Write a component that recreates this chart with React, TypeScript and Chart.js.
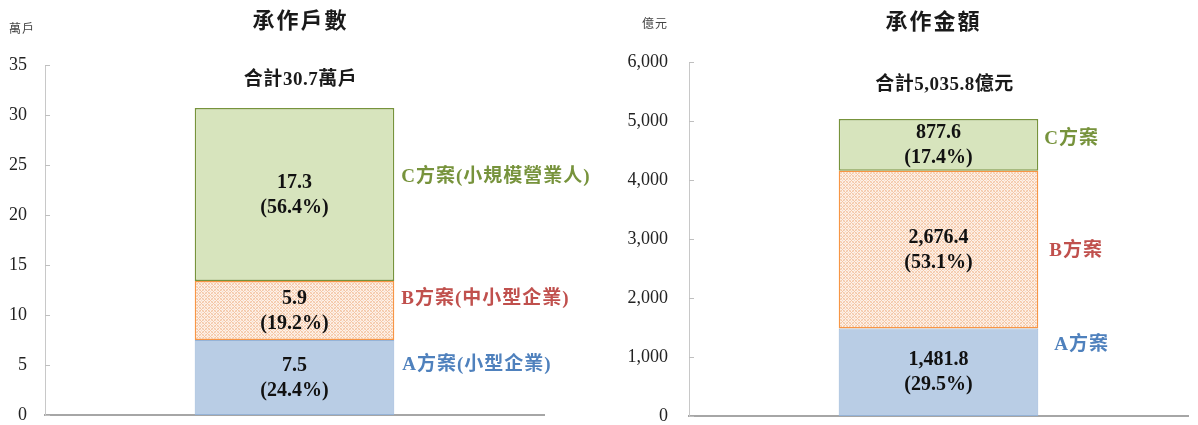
import React, { useEffect, useRef } from 'react';
import { Chart, registerables } from 'chart.js';

Chart.register(...registerables);

// ---------- data ----------
const categories = [''];
const leftTitle = '承作戶數';
const leftUnit = '萬戶';
const leftTotalPrefix = '合計';
const leftTotalSuffix = '萬戶';
const leftSeriesNames = ['A方案(小型企業)', 'B方案(中小型企業)', 'C方案(小規模營業人)'];
const householdValues = [7.5, 5.9, 17.3];
const householdShares = [24.4, 19.2, 56.4];
const householdAxisMax = 35;
const householdAxisStep = 5;

const rightTitle = '承作金額';
const rightUnit = '億元';
const rightTotalPrefix = '合計';
const rightTotalSuffix = '億元';
const rightSeriesNames = ['A方案', 'B方案', 'C方案'];
const amountValues = [1481.8, 2676.4, 877.6];
const amountShares = [29.5, 53.1, 17.4];
const amountAxisMax = 6000;
const amountAxisStep = 1000;

// ---------- styles ----------
const SERIF = '"Liberation Serif", "Times New Roman", "Noto Sans CJK TC", serif';
const seriesFill = ['#b9cde5', 'PATTERN', '#d7e4bd'];
const seriesBorder = ['#95b3d7', '#f79646', '#77933c'];
const seriesTextColor = ['#4f81bd', '#c0504d', '#77933c'];

const fmt1 = (v: number) =>
  v.toLocaleString('en-US', { minimumFractionDigits: 1, maximumFractionDigits: 1 });

function makePattern(): CanvasPattern | string {
  const c = document.createElement('canvas');
  c.width = 6;
  c.height = 6;
  const g = c.getContext('2d');
  if (!g) return '#fbe5d6';
  g.fillStyle = '#fdf1e8';
  g.fillRect(0, 0, 6, 6);
  g.fillStyle = '#f4c6a5';
  for (let i = 0; i < 6; i++) {
    for (let j = 0; j < 6; j++) {
      if ((i + j) % 6 === 0 || (i - j + 6) % 6 === 0) g.fillRect(i, j, 1, 1);
    }
  }
  g.fillStyle = '#f8dac4';
  for (let i = 0; i < 6; i++) {
    for (let j = 0; j < 6; j++) {
      if ((i + j) % 6 === 3 || (i - j + 6) % 6 === 3) g.fillRect(i, j, 1, 1);
    }
  }
  const p = g.createPattern(c, 'repeat');
  return p || '#fbe5d6';
}

const annotatePlugin = {
  id: 'annotate',
  afterDraw(chart: any, _args: any, opts: any) {
    const ctx = chart.ctx as CanvasRenderingContext2D;
    const area = chart.chartArea;
    const yScale = chart.scales.y;
    ctx.save();
    // small inner tick marks on the y axis
    ctx.strokeStyle = '#bfbfbf';
    ctx.lineWidth = 1;
    yScale.ticks.forEach((t: any) => {
      const y = Math.round(yScale.getPixelForValue(t.value)) + 0.5;
      ctx.beginPath();
      ctx.moveTo(area.left, y);
      ctx.lineTo(area.left + 5, y);
      ctx.stroke();
    });

    const cx = (area.left + area.right) / 2;
    // title
    ctx.fillStyle = '#1a1a1a';
    ctx.textAlign = 'center';
    ctx.textBaseline = 'middle';
    ctx.font = `bold 22px ${SERIF}`;
    (ctx as any).letterSpacing = '2px';
    ctx.fillText(opts.title, cx + opts.titleDx, opts.titleY);
    // unit
    ctx.font = `12px ${SERIF}`;
    (ctx as any).letterSpacing = '1px';
    ctx.fillStyle = '#444';
    ctx.fillText(opts.unit, opts.unitX, opts.unitY);
    // total
    const values: number[] = opts.values;
    const total = values.reduce((a, b) => a + b, 0);
    ctx.fillStyle = '#1a1a1a';
    ctx.font = `bold 19px ${SERIF}`;
    (ctx as any).letterSpacing = '0.5px';
    ctx.fillText(`${opts.totalPrefix}${fmt1(total)}${opts.totalSuffix}`, cx + opts.totalDx, opts.totalY);

    // segment labels and series names
    chart.data.datasets.forEach((ds: any, i: number) => {
      const bar = chart.getDatasetMeta(i).data[0] as any;
      if (!bar) return;
      const top = Math.min(bar.y, bar.base);
      const bottom = Math.max(bar.y, bar.base);
      const cy = (top + bottom) / 2;
      ctx.fillStyle = '#111';
      ctx.textAlign = 'center';
      ctx.font = `bold 20px ${SERIF}`;
      (ctx as any).letterSpacing = '0px';
      ctx.fillText(fmt1(values[i]), bar.x, cy - 12);
      ctx.fillText(`(${fmt1(opts.shares[i])}%)`, bar.x, cy + 13);

      ctx.textAlign = 'left';
      ctx.fillStyle = seriesTextColor[i];
      ctx.font = `bold 19px ${SERIF}`;
      (ctx as any).letterSpacing = '1px';
      ctx.fillText(ds.label, bar.x + bar.width / 2 + opts.nameDx[i], cy + opts.nameDy[i]);
    });
    (ctx as any).letterSpacing = '0px';
    ctx.restore();
  },
};

function buildChart(canvas: HTMLCanvasElement, cfg: any) {
  const pattern = makePattern();
  return new Chart(canvas, {
    type: 'bar',
    data: {
      labels: categories,
      datasets: cfg.names.map((name: string, i: number) => ({
        label: name,
        data: [cfg.values[i]],
        backgroundColor: seriesFill[i] === 'PATTERN' ? pattern : seriesFill[i],
        borderColor: seriesBorder[i],
        borderWidth: i === 0 ? 1 : 1.5,
        borderSkipped: false,
        barPercentage: 0.4,
        categoryPercentage: 1,
      })),
    },
    options: {
      animation: false,
      responsive: false,
      maintainAspectRatio: false,
      devicePixelRatio: 1,
      layout: { padding: { left: 0, right: cfg.padRight, top: cfg.padTop, bottom: cfg.padBottom } },
      plugins: {
        legend: { display: false },
        tooltip: { enabled: false },
        title: { display: false },
        annotate: cfg.annotate,
      } as any,
      scales: {
        x: {
          stacked: true,
          grid: { display: false, drawTicks: false },
          ticks: { display: false },
          border: { display: true, color: '#a6a6a6', width: 2 },
          afterFit: (s: any) => {
            s.height = 0;
          },
        },
        y: {
          stacked: true,
          min: 0,
          max: cfg.max,
          ticks: {
            stepSize: cfg.step,
            padding: cfg.tickPad,
            color: '#222',
            font: { family: SERIF, size: 18 },
          },
          grid: { display: false, drawTicks: false },
          border: { display: true, color: '#c8c8c8', width: 1 },
          afterFit: (s: any) => {
            s.width = cfg.axisWidth;
            s.paddingTop = 0;
            s.paddingBottom = 0;
          },
        },
      } as any,
    },
    plugins: [annotatePlugin],
  } as any);
}

export default function App() {
  const leftRef = useRef<HTMLCanvasElement>(null);
  const rightRef = useRef<HTMLCanvasElement>(null);

  useEffect(() => {
    document.body.style.margin = '0';
    const charts: Chart[] = [];
    if (leftRef.current) {
      charts.push(
        buildChart(leftRef.current, {
          names: leftSeriesNames,
          values: householdValues,
          max: householdAxisMax,
          step: householdAxisStep,
          axisWidth: 45,
          tickPad: 18,
          padRight: 55,
          padTop: 65,
          padBottom: 10,
          annotate: {
            title: leftTitle,
            titleDx: 6,
            titleY: 22,
            unit: leftUnit,
            unitX: 22,
            unitY: 30,
            totalPrefix: leftTotalPrefix,
            totalSuffix: leftTotalSuffix,
            totalDx: 6,
            totalY: 80,
            values: householdValues,
            shares: householdShares,
            nameDx: [8, 7, 7],
            nameDy: [-12, -11, -17],
          },
        })
      );
    }
    if (rightRef.current) {
      charts.push(
        buildChart(rightRef.current, {
          names: rightSeriesNames,
          values: amountValues,
          max: amountAxisMax,
          step: amountAxisStep,
          axisWidth: 90,
          tickPad: 21,
          padRight: 10,
          padTop: 62,
          padBottom: 9,
          annotate: {
            title: rightTitle,
            titleDx: -5,
            titleY: 23,
            unit: rightUnit,
            unitX: 56,
            unitY: 25,
            totalPrefix: rightTotalPrefix,
            totalSuffix: rightTotalSuffix,
            totalDx: 6,
            totalY: 85,
            values: amountValues,
            shares: amountShares,
            nameDx: [16, 11, 6],
            nameDy: [-27, 1, -6],
          },
        })
      );
    }
    return () => charts.forEach((c) => c.destroy());
  }, []);

  return (
    <div style={{ position: 'absolute', left: 0, top: 0, width: 1198, height: 425, background: '#fff' }}>
      <canvas ref={leftRef} width={599} height={425} style={{ position: 'absolute', left: 0, top: 0, width: 599, height: 425 }} />
      <canvas ref={rightRef} width={599} height={425} style={{ position: 'absolute', left: 599, top: 0, width: 599, height: 425 }} />
    </div>
  );
}
